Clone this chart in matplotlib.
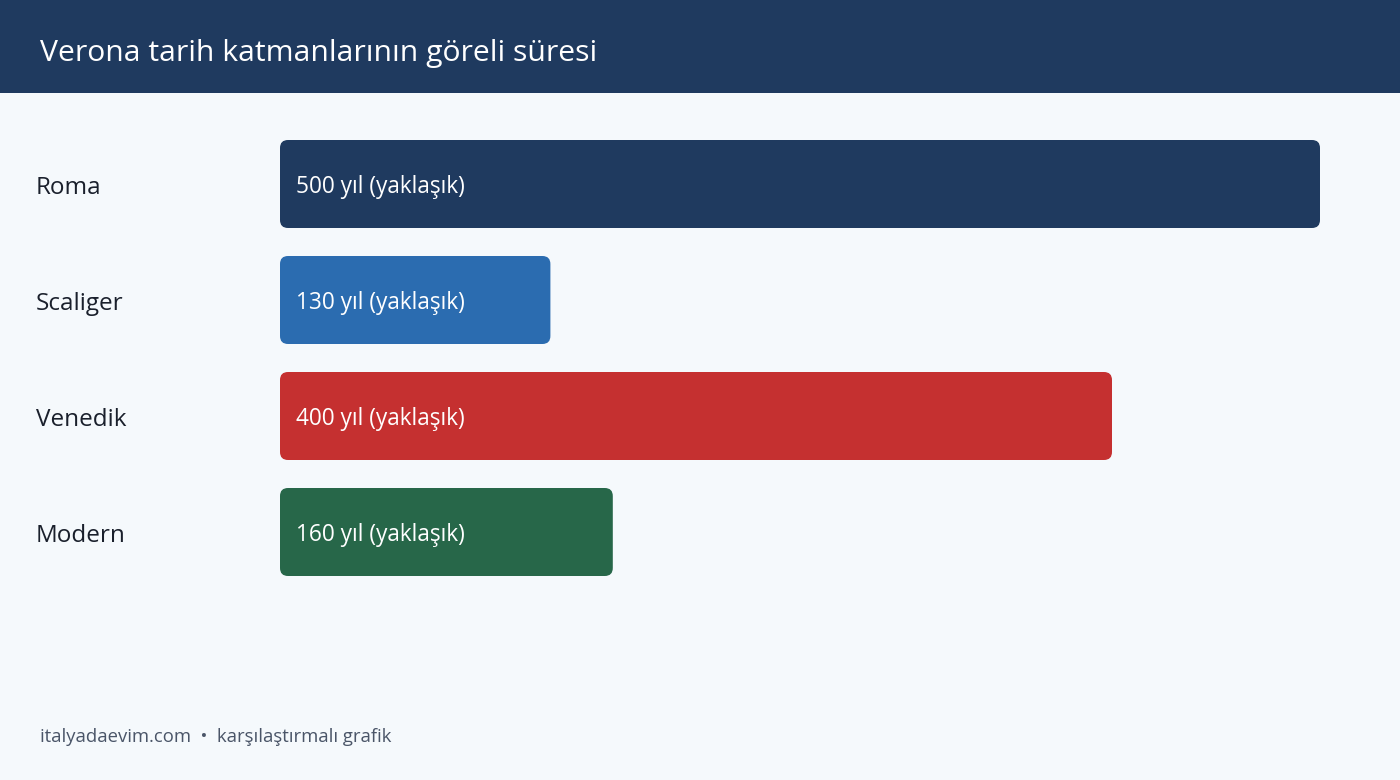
import matplotlib
matplotlib.use("Agg")
import matplotlib.pyplot as plt
from matplotlib.patches import FancyBboxPatch, Rectangle

# data
categories = ["Roma", "Scaliger", "Venedik", "Modern"]
years = [500, 130, 400, 160]
bar_labels = ["500 yıl (yaklaşık)", "130 yıl (yaklaşık)", "400 yıl (yaklaşık)", "160 yıl (yaklaşık)"]
bar_colors = ["#1f3a5f", "#2b6cb0", "#c53030", "#276749"]

title = "Verona tarih katmanlarının göreli süresi"
footer = "italyadaevim.com  •  karşılaştırmalı grafik"

W, H = 1400, 780
plt.rcParams["font.family"] = ["Open Sans", "DejaVu Sans"]

fig = plt.figure(figsize=(W / 100, H / 100), dpi=100)
fig.patch.set_facecolor("#f5f9fc")

# header band
fig.patches.append(Rectangle((0, 1 - 93 / H), 1, 93 / H, transform=fig.transFigure,
                             facecolor="#1f3a5f", edgecolor="none", zorder=0))
fig.text(40 / W, 1 - 53 / H, title, color="white", fontsize=21.7, va="center", ha="left")

# bar area: x 280..1320 px is 0..500 years, rows 116 px apart
ax_left, ax_right = 280, 1320
row = 116
top = 184 - row / 2
ax = fig.add_axes([ax_left / W, 1 - (top + row * len(categories)) / H,
                   (ax_right - ax_left) / W, row * len(categories) / H])
ax.set_xlim(0, max(years))
ax.set_ylim(len(categories) - 0.5, -0.5)
ax.axis("off")

bar_h = 88 / row
px_x = (ax_right - ax_left) / max(years)
radius = 8 / px_x
for i, (v, lab, c) in enumerate(zip(years, bar_labels, bar_colors)):
    box = FancyBboxPatch((0, i - bar_h / 2), v, bar_h,
                         boxstyle="round,pad=0,rounding_size=%f" % radius,
                         mutation_aspect=px_x / row,
                         facecolor=c, edgecolor="none")
    ax.add_patch(box)
    ax.text(16 / px_x, i + 3 / row, lab, color="white", fontsize=16.3, va="center", ha="left")
    fig.text(36 / W, 1 - (184 + i * row + 4) / H, categories[i], color="#1a202c",
             fontsize=17.5, va="center", ha="left")

fig.text(40 / W, 1 - 737 / H, footer, color="#4a5568", fontsize=13.3, va="center", ha="left")

fig.savefig("out.png", dpi=100, facecolor=fig.get_facecolor())
